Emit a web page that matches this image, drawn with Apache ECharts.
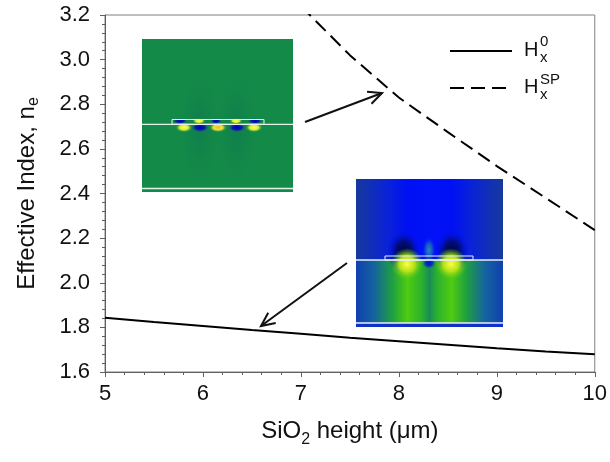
<!DOCTYPE html>
<html><head><meta charset="utf-8">
<script src="https://cdn.jsdelivr.net/npm/echarts@6/dist/echarts.min.js"></script>
<style>html,body{margin:0;padding:0;background:#fff}#c{width:610px;height:462px}</style>
</head><body><div id="c"></div>
<script>
// ---- data ----
const xSolid = [5, 5.5, 6, 6.5, 7, 7.5, 8, 8.5, 9, 9.5, 10];
const ySolid = [1.843, 1.824, 1.806, 1.788, 1.771, 1.754, 1.738, 1.722, 1.706, 1.692, 1.679];
const xDashed = [7, 7.5, 8, 8.5, 9, 9.5, 10];
const yDashed = [3.24, 3.02, 2.83, 2.675, 2.523, 2.38, 2.236];
const xTicks = [5, 6, 7, 8, 9, 10];
const yTicks = [1.6, 1.8, 2.0, 2.2, 2.4, 2.6, 2.8, 3.0, 3.2];

const FF = 'Liberation Sans, Arial, sans-serif';
const chart = echarts.init(document.getElementById('c'), null, {renderer: 'canvas'});

function arrow(x1, y1, x2, y2) {
  const dx = x2 - x1, dy = y2 - y1, L = Math.hypot(dx, dy);
  const ux = -dx / L, uy = -dy / L, a = 25 * Math.PI / 180, h = 15;
  const r = (c, s) => [x2 + h * (ux * c - uy * s), y2 + h * (ux * s + uy * c)];
  const p1 = r(Math.cos(a), Math.sin(a)), p2 = r(Math.cos(-a), Math.sin(-a));
  return [
    {type: 'line', z: 50, shape: {x1, y1, x2, y2}, style: {stroke: '#111', lineWidth: 2}},
    {type: 'polyline', z: 50, shape: {points: [p1, [x2, y2], p2]}, style: {stroke: '#111', lineWidth: 2, fill: null}}
  ];
}
function blob(cx, cy, rx, ry, c0, c1, c2, z) {
  return {type: 'circle', z: z || 41, x: cx, y: cy, scaleX: rx / 10, scaleY: ry / 10, shape: {cx: 0, cy: 0, r: 10},
    style: {fill: {type: 'radial', x: 0.5, y: 0.5, r: 0.5,
      colorStops: [{offset: 0, color: c0}, {offset: 0.5, color: c1}, {offset: 1, color: c2}]}}};
}
const G = 'rgba(18,138,72,0)';
const Y = (x, y, rx, ry) => blob(x, y, rx, ry, '#ffff60', '#d8f030', G);
const B = (x, y, rx, ry) => blob(x, y, rx, ry, '#0000a0', '#0818b8', G);

const graphics = [
  // green inset
  {type: 'rect', z: 40, shape: {x: 142, y: 39, width: 151, height: 153}, style: {fill: '#138a48'}},
  blob(200, 128, 22, 60, 'rgba(10,100,90,0.35)', 'rgba(10,110,80,0.15)', G, 40),
  blob(237, 128, 22, 60, 'rgba(10,100,90,0.35)', 'rgba(10,110,80,0.15)', G, 40),
  Y(184, 127.5, 9, 5), B(200, 127.5, 9.5, 5), blob(218, 127.5, 9.5, 5, '#ffb040', '#e8e830', G), B(237, 127.5, 9.5, 5), Y(254, 127.5, 9, 5),
  B(180, 121, 8, 3), Y(199, 121, 7, 3), B(216, 121, 6, 3), Y(236, 121, 7, 3), B(255, 121, 8, 3),
  {type: 'line', z: 42, shape: {x1: 142, y1: 124.3, x2: 293, y2: 124.3}, style: {stroke: '#e8f0ea', lineWidth: 1.3}},
  {type: 'rect', z: 42, shape: {x: 172, y: 119.5, width: 92, height: 4.8}, style: {fill: null, stroke: '#e8f0ea', lineWidth: 1}},
  {type: 'line', z: 42, shape: {x1: 142, y1: 188.5, x2: 293, y2: 188.5}, style: {stroke: '#e8f0ea', lineWidth: 1.3}},
  // blue inset
  {type: 'rect', z: 40, shape: {x: 356, y: 179, width: 147, height: 81}, style: {fill: {type: 'linear', x: 0, y: 0, x2: 1, y2: 0,
    colorStops: [{offset: 0, color: '#15399c'}, {offset: 0.22, color: '#0a22d8'}, {offset: 0.35, color: '#0010f4'}, {offset: 0.5, color: '#0012f8'},
      {offset: 0.65, color: '#0010f4'}, {offset: 0.78, color: '#0a22d8'}, {offset: 1, color: '#15399c'}]}}},
  blob(404, 252, 17, 22, '#000038', '#000e80', 'rgba(0,16,240,0)'),
  blob(452, 252, 17, 22, '#000038', '#000e80', 'rgba(0,16,240,0)'),
  blob(429, 250, 7, 14, '#2a8ab0', '#1050d0', 'rgba(0,16,240,0)'),
  {type: 'rect', z: 40, shape: {x: 356, y: 260, width: 147, height: 63}, style: {fill: {type: 'linear', x: 0, y: 0, x2: 1, y2: 0,
    colorStops: [{offset: 0, color: '#1040b0'}, {offset: 0.12, color: '#1462a0'}, {offset: 0.25, color: '#1fa040'}, {offset: 0.35, color: '#50cc10'},
      {offset: 0.45, color: '#2ab030'}, {offset: 0.5, color: '#1a8c58'}, {offset: 0.55, color: '#2ab030'}, {offset: 0.65, color: '#50cc10'},
      {offset: 0.75, color: '#1fa040'}, {offset: 0.88, color: '#1462a0'}, {offset: 1, color: '#1040b0'}]}}},
  blob(407, 264, 16, 16, '#ffff40', '#b0e018', 'rgba(80,200,20,0)'),
  blob(451, 264, 16, 16, '#ffff40', '#b0e018', 'rgba(80,200,20,0)'),
  blob(429, 263, 7, 6, '#0010d0', '#0830c0', 'rgba(20,120,100,0)'),
  {type: 'line', z: 42, shape: {x1: 356, y1: 260, x2: 503, y2: 260}, style: {stroke: '#e8eef8', lineWidth: 1.3}},
  {type: 'rect', z: 42, shape: {x: 385, y: 256, width: 88, height: 4}, style: {fill: null, stroke: '#e8eef8', lineWidth: 1}},
  {type: 'rect', z: 41, shape: {x: 356, y: 323, width: 147, height: 4}, style: {fill: '#1030c8'}},
  {type: 'line', z: 42, shape: {x1: 356, y1: 323, x2: 503, y2: 323}, style: {stroke: '#e8eef8', lineWidth: 1.3}},
  ...arrow(305, 122, 382, 93),
  ...arrow(347, 263, 261, 326),
  // legend
  {type: 'line', z: 50, shape: {x1: 450, y1: 51, x2: 512, y2: 51}, style: {stroke: '#000', lineWidth: 2}},
  {type: 'line', z: 50, shape: {x1: 450, y1: 88, x2: 506, y2: 88}, style: {stroke: '#000', lineWidth: 2, lineDash: [14, 7]}},
  {type: 'text', z: 50, style: {text: 'H', x: 524, y: 50, fontSize: 20, fontFamily: FF, fill: '#111', verticalAlign: 'middle', align: 'left'}},
  {type: 'text', z: 50, style: {text: '0', x: 540, y: 42, fontSize: 15, fontFamily: FF, fill: '#111', verticalAlign: 'middle', align: 'left'}},
  {type: 'text', z: 50, style: {text: 'x', x: 540, y: 58, fontSize: 15, fontFamily: FF, fill: '#111', verticalAlign: 'middle', align: 'left'}},
  {type: 'text', z: 50, style: {text: 'H', x: 524, y: 87, fontSize: 20, fontFamily: FF, fill: '#111', verticalAlign: 'middle', align: 'left'}},
  {type: 'text', z: 50, style: {text: 'SP', x: 540, y: 79.5, fontSize: 15, fontFamily: FF, fill: '#111', verticalAlign: 'middle', align: 'left'}},
  {type: 'text', z: 50, style: {text: 'x', x: 540, y: 95, fontSize: 15, fontFamily: FF, fill: '#111', verticalAlign: 'middle', align: 'left'}}
];

const option = {
  animation: false,
  backgroundColor: '#fff',
  grid: {left: 105, right: 13, top: 15, bottom: 90, show: true, borderColor: '#808080', borderWidth: 1},
  xAxis: {
    type: 'value', min: xTicks[0], max: xTicks[xTicks.length - 1], interval: 1,
    axisLine: {show: true, onZero: false, lineStyle: {color: '#606060', width: 1}},
    axisTick: {show: true, length: 5, lineStyle: {color: '#606060'}},
    minorTick: {show: true, splitNumber: 5, length: 3, lineStyle: {color: '#606060'}},
    splitLine: {show: false},
    axisLabel: {fontSize: 22, fontFamily: FF, color: '#111', margin: 11},
    name: '{a|SiO}{s|2}{a| height (μm)}', nameLocation: 'middle', nameGap: 47,
    nameTextStyle: {fontFamily: FF, rich: {
      a: {fontSize: 24, fontFamily: FF, color: '#111', lineHeight: 24},
      s: {fontSize: 16, fontFamily: FF, color: '#111', lineHeight: 16, padding: [18, 0, 0, 0]}}}
  },
  yAxis: {
    type: 'value', min: yTicks[0], max: yTicks[yTicks.length - 1], interval: 0.2,
    axisLine: {show: true, onZero: false, lineStyle: {color: '#606060', width: 1}},
    axisTick: {show: true, length: 5, lineStyle: {color: '#606060'}},
    minorTick: {show: true, splitNumber: 5, length: 3, lineStyle: {color: '#606060'}},
    splitLine: {show: false},
    axisLabel: {fontSize: 22, fontFamily: FF, color: '#111', margin: 15, formatter: v => v.toFixed(1)},
    name: '{a|Effective Index, n}{s|e}', nameLocation: 'middle', nameGap: 66,
    nameTextStyle: {fontFamily: FF, rich: {
      a: {fontSize: 24, fontFamily: FF, color: '#111', lineHeight: 24},
      s: {fontSize: 16, fontFamily: FF, color: '#111', lineHeight: 16, padding: [13, 0, 0, 0]}}}
  },
  series: [
    {type: 'line', data: xSolid.map((x, i) => [x, ySolid[i]]), showSymbol: false, symbol: 'none', clip: true,
      lineStyle: {color: '#000', width: 2}, z: 5},
    {type: 'line', data: xDashed.map((x, i) => [x, yDashed[i]]), showSymbol: false, symbol: 'none', clip: true,
      lineStyle: {color: '#000', width: 2, type: [14, 7]}, z: 5}
  ],
  graphic: graphics
};
chart.setOption(option);
</script></body></html>
